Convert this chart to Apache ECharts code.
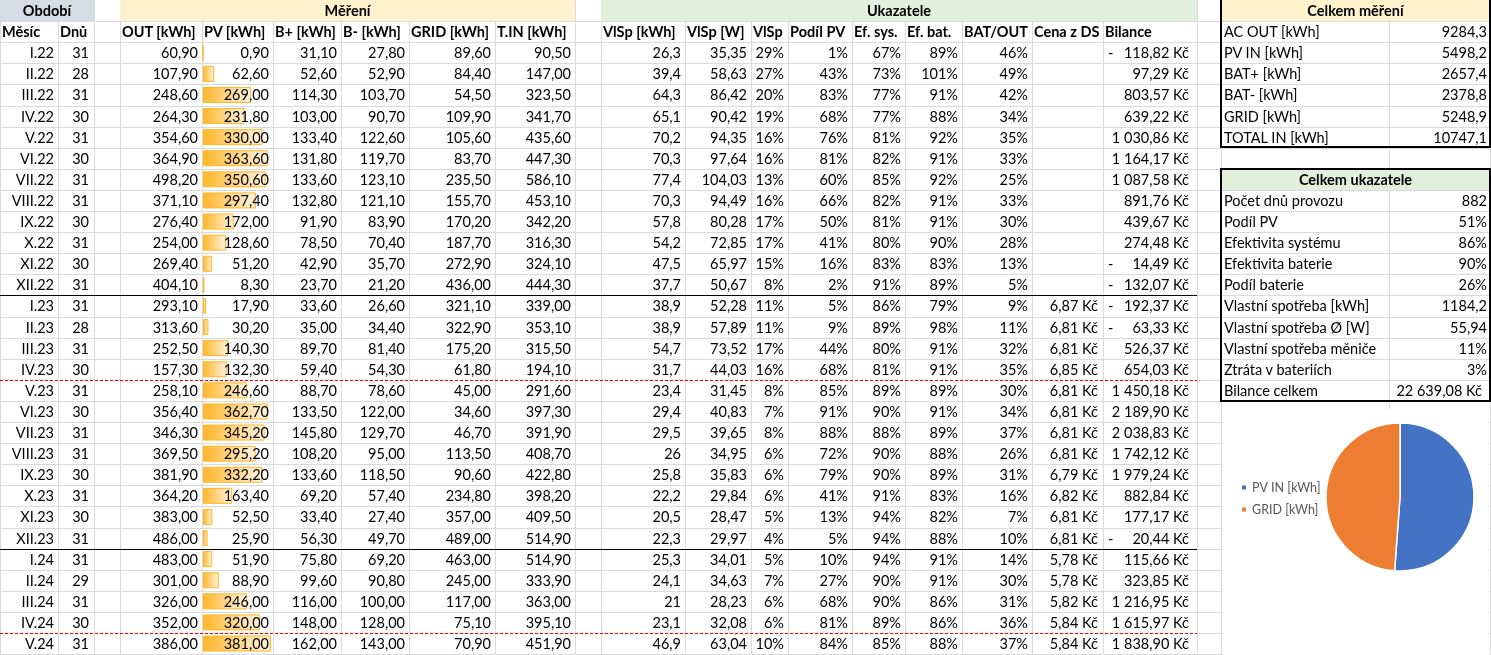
<!DOCTYPE html>
<html>
<head>
<meta charset="utf-8">
<script src="https://cdn.jsdelivr.net/npm/echarts/dist/echarts.min.js"></script>
<style>
  html, body { margin: 0; padding: 0; background: #fff; }
  #sheet { position: relative; width: 1491px; height: 655px; overflow: hidden; background: #fff;
           font-family: 'Lato', 'Open Sans', sans-serif; font-size: 14.5px; color: #000; }
  .ln { position: absolute; background: #dadada; }
  .fill { position: absolute; }
  .t { position: absolute; white-space: nowrap; box-sizing: border-box; padding: 0 4px; }
  .b { font-weight: bold; }
  #chart { position: absolute; left: 0; top: 0; width: 1491px; height: 655px; z-index: 2; }
  #cells { position: absolute; left: 0; top: 0; z-index: 1; }
  #texts { position: absolute; left: 0; top: 0; z-index: 3; }
  #rules { position: absolute; left: 0; top: 0; z-index: 4; }
</style>
</head>
<body>
<div id="sheet">
  <div id="cells"></div>
  <div id="chart"></div>
  <div id="texts"></div>
  <div id="rules"></div>
</div>
<script>
// ---- data ----
const months = ['I.22', 'II.22', 'III.22', 'IV.22', 'V.22', 'VI.22', 'VII.22', 'VIII.22', 'IX.22', 'X.22', 'XI.22', 'XII.22',
    'I.23', 'II.23', 'III.23', 'IV.23', 'V.23', 'VI.23', 'VII.23', 'VIII.23', 'IX.23', 'X.23', 'XI.23', 'XII.23',
    'I.24', 'II.24', 'III.24', 'IV.24', 'V.24'];
const days = [31, 28, 31, 30, 31, 30, 31, 31, 30, 31, 30, 31, 31, 28, 31, 30, 31, 30, 31, 31, 30, 31, 30, 31, 31, 29, 31, 30, 31];
const outKwh = [60.9, 107.9, 248.6, 264.3, 354.6, 364.9, 498.2, 371.1, 276.4, 254.0, 269.4, 404.1,
    293.1, 313.6, 252.5, 157.3, 258.1, 356.4, 346.3, 369.5, 381.9, 364.2, 383.0, 486.0,
    483.0, 301.0, 326.0, 352.0, 386.0];
const pvKwh = [0.9, 62.6, 269.0, 231.8, 330.0, 363.6, 350.6, 297.4, 172.0, 128.6, 51.2, 8.3,
    17.9, 30.2, 140.3, 132.3, 246.6, 362.7, 345.2, 295.2, 332.2, 163.4, 52.5, 25.9,
    51.9, 88.9, 246.0, 320.0, 381.0];
const batPlus = [31.1, 52.6, 114.3, 103.0, 133.4, 131.8, 133.6, 132.8, 91.9, 78.5, 42.9, 23.7,
    33.6, 35.0, 89.7, 59.4, 88.7, 133.5, 145.8, 108.2, 133.6, 69.2, 33.4, 56.3,
    75.8, 99.6, 116.0, 148.0, 162.0];
const batMinus = [27.8, 52.9, 103.7, 90.7, 122.6, 119.7, 123.1, 121.1, 83.9, 70.4, 35.7, 21.2,
    26.6, 34.4, 81.4, 54.3, 78.6, 122.0, 129.7, 95.0, 118.5, 57.4, 27.4, 49.7,
    69.2, 90.8, 100.0, 128.0, 143.0];
const gridKwh = [89.6, 84.4, 54.5, 109.9, 105.6, 83.7, 235.5, 155.7, 170.2, 187.7, 272.9, 436.0,
    321.1, 322.9, 175.2, 61.8, 45.0, 34.6, 46.7, 113.5, 90.6, 234.8, 357.0, 489.0,
    463.0, 245.0, 117.0, 75.1, 70.9];
const totalIn = [90.5, 147.0, 323.5, 341.7, 435.6, 447.3, 586.1, 453.1, 342.2, 316.3, 324.1, 444.3,
    339.0, 353.1, 315.5, 194.1, 291.6, 397.3, 391.9, 408.7, 422.8, 398.2, 409.5, 514.9,
    514.9, 333.9, 363.0, 395.1, 451.9];
const vlspKwh = [26.3, 39.4, 64.3, 65.1, 70.2, 70.3, 77.4, 70.3, 57.8, 54.2, 47.5, 37.7,
    38.9, 38.9, 54.7, 31.7, 23.4, 29.4, 29.5, 26, 25.8, 22.2, 20.5, 22.3,
    25.3, 24.1, 21, 23.1, 46.9];
const vlspW = [35.35, 58.63, 86.42, 90.42, 94.35, 97.64, 104.03, 94.49, 80.28, 72.85, 65.97, 50.67,
    52.28, 57.89, 73.52, 44.03, 31.45, 40.83, 39.65, 34.95, 35.83, 29.84, 28.47, 29.97,
    34.01, 34.63, 28.23, 32.08, 63.04];
const vlspPct = [29, 27, 20, 19, 16, 16, 13, 16, 17, 17, 15, 8, 11, 11, 17, 16, 8, 7, 8, 6, 6, 6, 5, 4, 5, 7, 6, 6, 10];
const podilPv = [1, 43, 83, 68, 76, 81, 60, 66, 50, 41, 16, 2, 5, 9, 44, 68, 85, 91, 88, 72, 79, 41, 13, 5, 10, 27, 68, 81, 84];
const efSys = [67, 73, 77, 77, 81, 82, 85, 82, 81, 80, 83, 91, 86, 89, 80, 81, 89, 90, 88, 90, 90, 91, 94, 94, 94, 90, 90, 89, 85];
const efBat = [89, 101, 91, 88, 92, 91, 92, 91, 91, 90, 83, 89, 79, 98, 91, 91, 89, 91, 89, 88, 89, 83, 82, 88, 91, 91, 86, 86, 88];
const batOut = [46, 49, 42, 34, 35, 33, 25, 33, 30, 28, 13, 5, 9, 11, 32, 35, 30, 34, 37, 26, 31, 16, 7, 10, 14, 30, 31, 36, 37];
const cenaDs = [null, null, null, null, null, null, null, null, null, null, null, null,
    6.87, 6.81, 6.81, 6.85, 6.81, 6.81, 6.81, 6.81, 6.79, 6.82, 6.81, 6.81,
    5.78, 5.78, 5.82, 5.84, 5.84];
const bilance = [-118.82, 97.29, 803.57, 639.22, 1030.86, 1164.17, 1087.58, 891.76, 439.67, 274.48, -14.49, -132.07,
    -192.37, -63.33, 526.37, 654.03, 1450.18, 2189.90, 2038.83, 1742.12, 1979.24, 882.84, 177.17, -20.44,
    115.66, 323.85, 1216.95, 1615.97, 1838.90];

const headTop = ['Období', 'Měření', 'Ukazatele'];
const headCols = ['Měsíc', 'Dnů', '', 'OUT [kWh]', 'PV [kWh]', 'B+ [kWh]', 'B- [kWh]', 'GRID [kWh]', 'T.IN [kWh]', '',
    'VlSp [kWh]', 'VlSp [W]', 'VlSp', 'Podíl PV', 'Ef. sys.', 'Ef. bat.', 'BAT/OUT', 'Cena z DS', 'Bilance'];

const mereniTitle = 'Celkem měření';
const mereniLabels = ['AC OUT [kWh]', 'PV IN [kWh]', 'BAT+ [kWh]', 'BAT- [kWh]', 'GRID [kWh]', 'TOTAL IN [kWh]'];
const mereniValues = [9284.3, 5498.2, 2657.4, 2378.8, 5248.9, 10747.1];

const ukazTitle = 'Celkem ukazatele';
const ukazLabels = ['Počet dnů provozu', 'Podíl PV', 'Efektivita systému', 'Efektivita baterie', 'Podíl baterie',
    'Vlastní spotřeba [kWh]', 'Vlastní spotřeba Ø [W]', 'Vlastní spotřeba měniče', 'Ztráta v bateriích', 'Bilance celkem'];
const ukazValues = [882, 51, 86, 90, 26, 1184.2, 55.94, 11, 3, 22639.08];
const ukazFormats = ['gen', 'pct', 'pct', 'pct', 'pct', 'gen', 'gen', 'pct', 'pct', 'kc'];

// ---- sheet geometry ----
const ROW = 21.1;
const colEdges = [0, 58, 94, 120, 202, 273, 341, 409, 495, 575, 601, 685, 751, 788, 852, 905, 962, 1032, 1103, 1197, 1221, 1389, 1490];

// number formatting, czech style
function dec(v, d) { return v.toFixed(d).replace('.', ','); }
function gen(v) { return String(v).replace('.', ','); }
function thousands(v, d) {
    const s = Math.abs(v).toFixed(d).split('.');
    const int = s[0].replace(/\B(?=(\d{3})+(?!\d))/g, ' ');
    return int + ',' + s[1];
}

const cells = document.getElementById('cells');
const texts = document.getElementById('texts');
const rules = document.getElementById('rules');

function box(parent, cls, x, y, w, h, css) {
    const el = document.createElement('div');
    el.className = cls;
    el.style.left = x + 'px'; el.style.top = y + 'px';
    el.style.width = w + 'px'; el.style.height = h + 'px';
    if (css) Object.assign(el.style, css);
    parent.appendChild(el);
    return el;
}
function text(col0, col1, row, str, align, bold, css) {
    const x = colEdges[col0], w = colEdges[col1] - x;
    const el = box(texts, 't' + (bold ? ' b' : ''), x, row * ROW, w, ROW,
        Object.assign({ textAlign: align, lineHeight: ROW + 'px' }, css || {}));
    el.textContent = str;
    return el;
}

// gridlines
for (const x of colEdges) box(cells, 'ln', x, 0, 1, 655);
for (let r = 1; r <= 31; r++) box(cells, 'ln', 0, Math.round(r * ROW), 1491, 1);

// header fills
box(cells, 'fill', 0, 0, colEdges[2], ROW, { background: '#d6dce4' });
box(cells, 'fill', colEdges[3], 0, colEdges[9] - colEdges[3], ROW, { background: '#fff2cc' });
box(cells, 'fill', colEdges[10], 0, colEdges[19] - colEdges[10], ROW, { background: '#e2efda' });
box(cells, 'fill', 1222, 0, 267, ROW, { background: '#fff2cc' });
box(cells, 'fill', 1222, Math.round(8 * ROW) + 1, 267, ROW - 1, { background: '#e2efda' });
// white chart area over the gridlines
box(cells, 'fill', 1223, 409, 266, 246, { background: '#fff' });

// header texts
text(0, 2, 0, headTop[0], 'center', true);
text(3, 9, 0, headTop[1], 'center', true);
text(10, 19, 0, headTop[2], 'center', true);
headCols.forEach((h, i) => { if (h) text(i, i + 1, 1, h, 'left', true, { paddingLeft: '2px' }); });

// body rows
months.forEach((m, i) => {
    const r = i + 2;
    text(0, 1, r, m, 'right');
    text(1, 2, r, String(days[i]), 'right', false, { paddingRight: '5px' });
    text(3, 4, r, dec(outKwh[i], 2), 'right');
    text(4, 5, r, dec(pvKwh[i], 2), 'right');
    text(5, 6, r, dec(batPlus[i], 2), 'right');
    text(6, 7, r, dec(batMinus[i], 2), 'right');
    text(7, 8, r, dec(gridKwh[i], 2), 'right');
    text(8, 9, r, dec(totalIn[i], 2), 'right');
    text(10, 11, r, gen(vlspKwh[i]), 'right');
    text(11, 12, r, dec(vlspW[i], 2), 'right');
    text(12, 13, r, vlspPct[i] + '%', 'right');
    text(13, 14, r, podilPv[i] + '%', 'right');
    text(14, 15, r, efSys[i] + '%', 'right');
    text(15, 16, r, efBat[i] + '%', 'right');
    text(16, 17, r, batOut[i] + '%', 'right');
    if (cenaDs[i] !== null) text(17, 18, r, dec(cenaDs[i], 2) + ' Kč', 'right', false, { paddingRight: '5px' });
    text(18, 19, r, thousands(bilance[i], 2) + ' Kč', 'right', false, { paddingRight: '8px' });
    if (bilance[i] < 0) text(18, 19, r, '-', 'left', false, { paddingLeft: '5px' });
});

// summary tables
text(20, 22, 0, mereniTitle, 'center', true);
mereniLabels.forEach((l, i) => {
    text(20, 21, i + 1, l, 'left', false, { paddingLeft: '3px' });
    text(21, 22, i + 1, gen(mereniValues[i]), 'right', false, { paddingRight: '3px' });
});
text(20, 22, 8, ukazTitle, 'center', true);
ukazLabels.forEach((l, i) => {
    const v = ukazValues[i], f = ukazFormats[i];
    const s = f === 'pct' ? v + '%' : f === 'kc' ? thousands(v, 2) + ' Kč' : gen(v);
    text(20, 21, i + 9, l, 'left', false, { paddingLeft: '3px' });
    text(21, 22, i + 9, s, 'right', false, { paddingRight: f === 'kc' ? '8px' : '3px' });
});

// borders
box(rules, 'fill', 1220, -2, 267, 146, { border: '2px solid #000' });
box(rules, 'fill', 1220, 168, 267, 230, { border: '2px solid #000' });
[12, 24].forEach(k => box(rules, 'fill', 0, Math.round(2 * ROW + k * ROW), 1197, 1, { background: '#000' }));
[16, 28].forEach(k => box(rules, 'fill', 0, Math.round(2 * ROW + k * ROW), 1197, 1,
    { background: 'repeating-linear-gradient(90deg, #ff0000 0 3px, transparent 3px 5px)' }));

// ---- chart: PV data bars + pie ----
const chartDom = document.getElementById('chart');
const myChart = echarts.init(chartDom, null, { renderer: 'canvas' });

const option = {
    backgroundColor: 'transparent',
    animation: false,
    grid: { left: 203, top: 2 * ROW, width: 68, height: months.length * ROW },
    xAxis: { type: 'value', min: 0, max: Math.max(...pvKwh), show: false },
    yAxis: { type: 'category', data: months, inverse: true, show: false },
    legend: {
        orient: 'vertical', left: 1235, top: 476,
        icon: 'rect', itemWidth: 6, itemHeight: 6, itemGap: 9,
        textStyle: { color: '#595959', fontSize: 12.5, fontFamily: 'Lato' },
        data: [mereniLabels[1], mereniLabels[4]]
    },
    series: [
        {
            type: 'bar',
            data: pvKwh,
            barWidth: 16,
            silent: true,
            itemStyle: {
                color: {
                    type: 'linear', x: 0, y: 0, x2: 1, y2: 0,
                    colorStops: [{ offset: 0, color: '#ffb628' }, { offset: 1, color: '#fff4e2' }]
                },
                borderColor: '#ffb628',
                borderWidth: 1
            }
        },
        {
            type: 'pie',
            center: [1400, 497],
            radius: 74,
            startAngle: 90,
            silent: true,
            label: { show: false },
            labelLine: { show: false },
            itemStyle: { borderColor: '#fff', borderWidth: 1.5 },
            data: [
                { name: mereniLabels[1], value: mereniValues[1], itemStyle: { color: '#4472c4' } },
                { name: mereniLabels[4], value: mereniValues[4], itemStyle: { color: '#ed7d31' } }
            ]
        }
    ]
};
myChart.setOption(option);
</script>
</body>
</html>
